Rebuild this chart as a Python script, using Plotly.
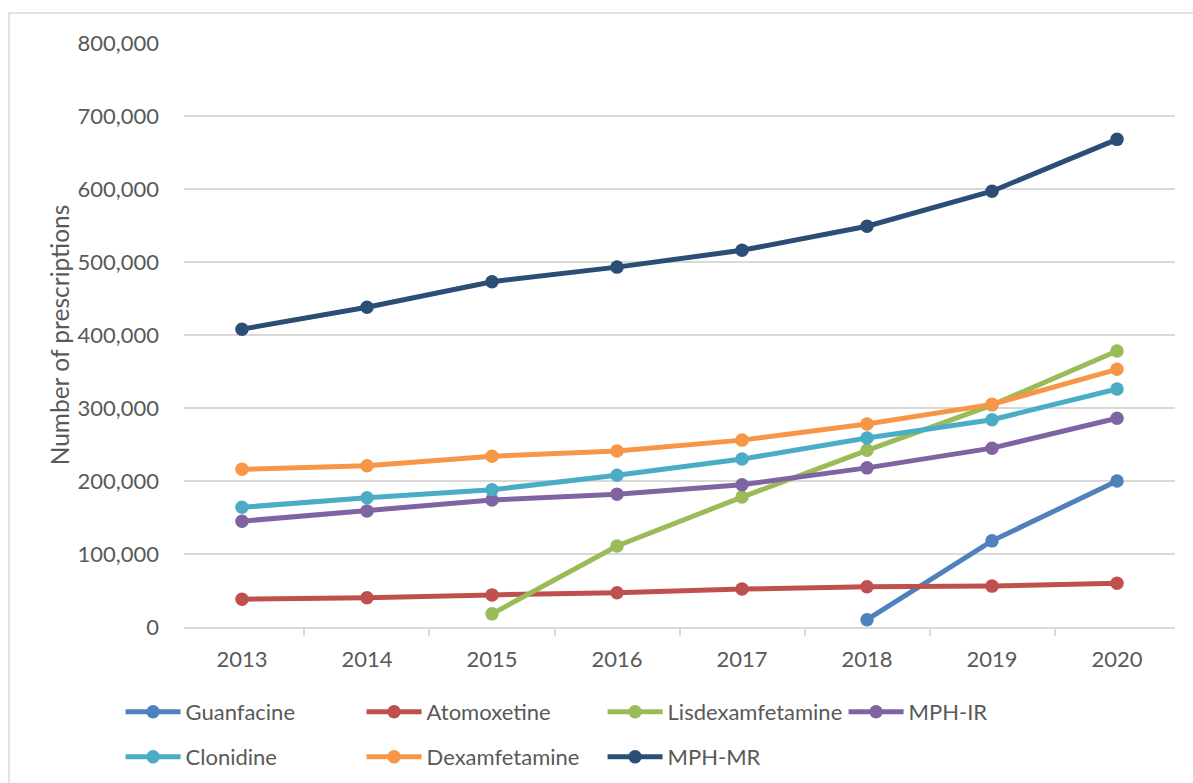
import plotly.graph_objects as go

years = ["2013", "2014", "2015", "2016", "2017", "2018", "2019", "2020"]

guanfacine = [None, None, None, None, None, 10000, 118000, 200000]
atomoxetine = [38000, 40000, 44000, 47000, 52000, 55000, 56000, 60000]
lisdexamfetamine = [None, None, 18000, 111000, 178000, 242000, 304000, 378000]
mph_ir = [145000, 159000, 174000, 182000, 195000, 218000, 245000, 286000]
clonidine = [164000, 177000, 188000, 208000, 230000, 259000, 284000, 326000]
dexamfetamine = [216000, 221000, 234000, 241000, 256000, 278000, 305000, 353000]
mph_mr = [408000, 438000, 473000, 493000, 516000, 549000, 597000, 668000]

series = [
    ("Guanfacine", guanfacine, "#4F81BD", "legend"),
    ("Atomoxetine", atomoxetine, "#C0504D", "legend"),
    ("Lisdexamfetamine", lisdexamfetamine, "#9BBB59", "legend"),
    ("MPH-IR", mph_ir, "#8064A2", "legend"),
    ("Clonidine", clonidine, "#4BACC6", "legend2"),
    ("Dexamfetamine", dexamfetamine, "#F79646", "legend2"),
    ("MPH-MR", mph_mr, "#2C4D75", "legend2"),
]

FONT = "Lato"
TXT = "#595959"
FS = 22

fig = go.Figure()
for name, vals, color, lg in series:
    fig.add_trace(go.Scatter(
        x=years, y=vals, name=name, mode="lines+markers",
        line=dict(color=color, width=5),
        marker=dict(color=color, size=13.5),
        legend=lg, connectgaps=False,
    ))

legend_common = dict(
    orientation="h", xanchor="left", yanchor="middle",
    font=dict(family=FONT, size=FS, color=TXT),
    itemwidth=55, entrywidth=171, entrywidthmode="pixels",
    bgcolor="rgba(0,0,0,0)", tracegroupgap=0,
)

fig.update_layout(
    width=1193, height=783,
    margin=dict(l=184, r=18, t=43, b=156, autoexpand=False),
    paper_bgcolor="white", plot_bgcolor="white",
    font=dict(family=FONT, size=FS, color=TXT),
    showlegend=True,
    legend=dict(x=-0.064, y=-0.1455, **legend_common),
    legend2=dict(x=-0.064, y=-0.2226, **legend_common),
    xaxis=dict(
        type="category", showgrid=False, showline=True,
        linecolor="#D9D9D9", linewidth=1.5,
        ticks="outside", tickson="boundaries", ticklen=7, tickcolor="#D9D9D9", tickwidth=1.5,
        tickfont=dict(family=FONT, size=FS, color=TXT),
        ticklabelstandoff=12, automargin=False,
    ),
    yaxis=dict(
        range=[0, 800000], dtick=100000, tickformat=",d",
        showgrid=True, gridcolor="#D9D9D9", gridwidth=1.5,
        zeroline=False, showline=False, ticks="",
        tickfont=dict(family=FONT, size=FS, color=TXT),
        ticklabelstandoff=24, automargin=False,
        title=dict(text="Number of prescriptions", font=dict(family=FONT, size=24.5, color=TXT), standoff=0),
    ),
    shapes=[dict(
        type="rect", xref="paper", yref="paper",
        x0=-0.1766, x1=1.2, y0=-0.5, y1=1.0514,
        line=dict(color="#D9D9D9", width=1.5), fillcolor="rgba(0,0,0,0)", layer="below",
    )],
)

fig.write_html("out.html", config={"displayModeBar": False},
               post_script="document.body.style.margin='0';")
